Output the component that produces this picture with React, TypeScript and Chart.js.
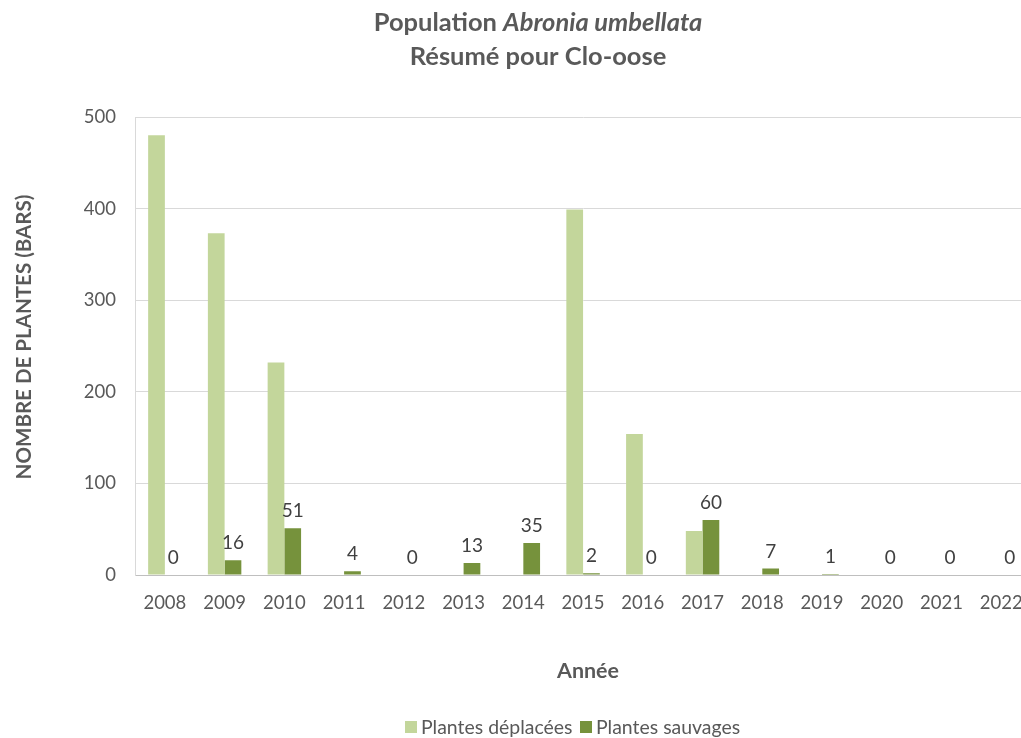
import React, { useEffect, useRef } from "react";
import { Chart, registerables } from "chart.js";

Chart.register(...registerables);

const years = ["2008", "2009", "2010", "2011", "2012", "2013", "2014", "2015", "2016", "2017", "2018", "2019", "2020", "2021", "2022"];
const plantesDeplacees = [480, 373, 232, 0, 0, 0, 0, 399, 154, 48, 0, 0, 0, 0, 0];
const plantesSauvages = [0, 16, 51, 4, 0, 13, 35, 2, 0, 60, 7, 1, 0, 0, 0];
const seriesNames = ["Plantes déplacées", "Plantes sauvages"];
const seriesColors = ["#C3D69B", "#76923C"];
const yMin = 0;
const yMax = 500;
const yStep = 100;
const titlePlain = "Population ";
const titleItalic = "Abronia umbellata";
const subtitle = "Résumé pour Clo-oose";
const yAxisTitle = "NOMBRE DE PLANTES (BARS)";
const xAxisTitle = "Année";

const FONT = "Lato, 'Open Sans', sans-serif";
const TEXT = "#595959";

function fitFont(ctx: CanvasRenderingContext2D, text: string, weight: string, target: number, style = "normal") {
  ctx.font = `${style} ${weight} 100px ${FONT}`;
  const w = ctx.measureText(text).width;
  return (100 * target) / w;
}

const overlay = {
  id: "overlay",
  afterDatasetsDraw(chart: any) {
    const ctx = chart.ctx as CanvasRenderingContext2D;
    const meta = chart.getDatasetMeta(1);
    ctx.save();
    ctx.fillStyle = "#404040";
    ctx.font = `normal 400 19px ${FONT}`;
    ctx.textAlign = "center";
    ctx.textBaseline = "alphabetic";
    meta.data.forEach((el: any, i: number) => {
      ctx.fillText(String(plantesSauvages[i]), el.x, el.y - 11);
    });
    ctx.restore();
  },
  afterDraw(chart: any) {
    const ctx = chart.ctx as CanvasRenderingContext2D;
    ctx.save();
    ctx.fillStyle = TEXT;
    ctx.textBaseline = "middle";
    // Title line 1 (mixed style)
    const cx = 538;
    ctx.font = `normal 700 100px ${FONT}`;
    const a1 = ctx.measureText(titlePlain).width;
    ctx.font = `italic 700 100px ${FONT}`;
    const a2 = ctx.measureText(titleItalic).width;
    const s1 = (100 * 337) / (a1 + a2);
    const s2 = fitFont(ctx, subtitle, "700", 250);
    const fsT = (s1 + s2) / 2;
    ctx.font = `normal 700 ${fsT}px ${FONT}`;
    const w1 = ctx.measureText(titlePlain).width;
    ctx.font = `italic 700 ${fsT}px ${FONT}`;
    const w2 = ctx.measureText(titleItalic).width;
    const x = cx - (w1 + w2) / 2;
    ctx.textAlign = "left";
    ctx.font = `normal 700 ${fsT}px ${FONT}`;
    ctx.fillText(titlePlain, x, 23);
    ctx.font = `italic 700 ${fsT}px ${FONT}`;
    ctx.fillText(titleItalic, x + w1, 23);
    ctx.textAlign = "center";
    ctx.font = `normal 700 ${fsT}px ${FONT}`;
    ctx.fillText(subtitle, cx, 57);

    // Y axis title
    ctx.save();
    ctx.translate(24, 337);
    ctx.rotate(-Math.PI / 2);
    ctx.font = `normal 700 ${fitFont(ctx, yAxisTitle, "700", 285)}px ${FONT}`;
    ctx.fillText(yAxisTitle, 0, 0);
    ctx.restore();

    // X axis title
    ctx.font = `normal 700 ${fitFont(ctx, xAxisTitle, "700", 62)}px ${FONT}`;
    ctx.fillText(xAxisTitle, 588, 671);

    // Legend
    const lfs = (fitFont(ctx, seriesNames[0], "400", 152) + fitFont(ctx, seriesNames[1], "400", 144)) / 2;
    ctx.font = `normal 400 ${lfs}px ${FONT}`;
    ctx.textAlign = "left";
    const ly = 727;
    const items = [
      { x: 405, label: seriesNames[0], color: seriesColors[0] },
      { x: 580, label: seriesNames[1], color: seriesColors[1] },
    ];
    items.forEach((it) => {
      ctx.fillStyle = it.color;
      ctx.fillRect(it.x, ly - 6, 12, 12);
      ctx.fillStyle = TEXT;
      ctx.fillText(it.label, it.x + 16, ly + 1);
    });
    ctx.restore();
  },
};

export default function App() {
  const ref = useRef<HTMLCanvasElement | null>(null);
  useEffect(() => {
    if (!ref.current) return;
    const chart = new Chart(ref.current, {
      type: "bar",
      data: {
        labels: years,
        datasets: [
          { label: seriesNames[0], data: plantesDeplacees, backgroundColor: seriesColors[0], borderWidth: 0 },
          { label: seriesNames[1], data: plantesSauvages, backgroundColor: seriesColors[1], borderWidth: 0 },
        ],
      },
      options: {
        responsive: false,
        animation: false,
        devicePixelRatio: 1,
        categoryPercentage: 0.56,
        barPercentage: 1,
        layout: { padding: { top: 117, right: 8, left: 0, bottom: 0 } },
        plugins: {
          legend: { display: false },
          title: { display: false },
          tooltip: { enabled: false },
        },
        scales: {
          x: {
            grid: { display: false, drawTicks: false },
            border: { display: true, color: "#BFBFBF", width: 1 },
            ticks: { color: TEXT, font: { family: FONT, size: 18.5 }, padding: 17, maxRotation: 0, autoSkip: false },
            afterFit: (s: any) => { s.height = 163; },
          },
          y: {
            min: yMin,
            max: yMax,
            grid: { color: "#D9D9D9", lineWidth: 1, drawTicks: false },
            border: { display: true, color: "#D9D9D9", width: 1 },
            ticks: { stepSize: yStep, color: TEXT, font: { family: FONT, size: 18.5 }, padding: 19 },
            afterFit: (s: any) => { s.width = 135; },
          },
        },
      },
      plugins: [overlay],
    } as any);
    return () => chart.destroy();
  }, []);
  return (
    <div style={{ position: "fixed", left: 0, top: 0, width: 1021, height: 738, overflow: "hidden", background: "#fff" }}>
      <canvas ref={ref} width={1040} height={738} style={{ display: "block", width: 1040, height: 738 }} />
    </div>
  );
}
